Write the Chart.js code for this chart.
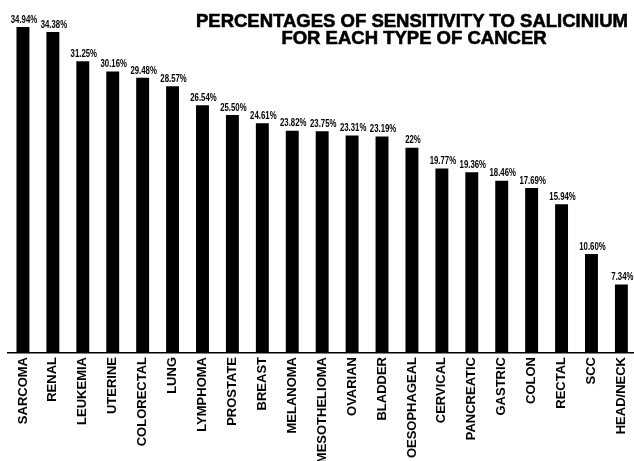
<!DOCTYPE html>
<html>
<head>
<meta charset="utf-8">
<script src="https://cdn.jsdelivr.net/npm/chart.js@4/dist/chart.umd.min.js"></script>
<style>
    html, body { margin: 0; padding: 0; background: #fff; overflow: hidden; }
    .chart-box { position: relative; width: 641px; height: 461px; }
</style>
</head>
<body>
<div class="chart-box"><canvas id="barChart"></canvas></div>
<script>
// 数据
const cancerTypes = ['SARCOMA', 'RENAL', 'LEUKEMIA', 'UTERINE', 'COLORECTAL', 'LUNG', 'LYMPHOMA',
    'PROSTATE', 'BREAST', 'MELANOMA', 'MESOTHELIOMA', 'OVARIAN', 'BLADDER', 'OESOPHAGEAL',
    'CERVICAL', 'PANCREATIC', 'GASTRIC', 'COLON', 'RECTAL', 'SCC', 'HEAD/NECK'];
const sensitivity = [34.94, 34.38, 31.25, 30.16, 29.48, 28.57, 26.54, 25.50, 24.61, 23.82, 23.75,
    23.31, 23.19, 22, 19.77, 19.36, 18.46, 17.69, 15.94, 10.60, 7.34];
const titleLines = ['PERCENTAGES OF SENSITIVITY TO SALICINIUM', 'FOR EACH TYPE OF CANCER'];

const fmt = v => (Number.isInteger(v) ? v : v.toFixed(2)) + '%';

// 柱顶标签 + 标题
const overlay = {
    id: 'overlay',
    afterDatasetsDraw(chart) {
        const ctx = chart.ctx;
        ctx.save();
        ctx.fillStyle = '#000';
        ctx.textAlign = 'center';
        ctx.textBaseline = 'bottom';
        ctx.font = 'bold 10px "Liberation Sans", Arial, sans-serif';
        chart.getDatasetMeta(0).data.forEach((bar, i) => {
            // 窄体效果
            ctx.save();
            ctx.translate(bar.x + 1, bar.y - 2);
            ctx.scale(0.78, 1);
            ctx.fillText(fmt(sensitivity[i]), 0, 0);
            ctx.restore();
        });

        ctx.font = 'bold 18.5px "Liberation Sans", Arial, sans-serif';
        ctx.textBaseline = 'alphabetic';
        ctx.lineWidth = 0.6;
        ctx.strokeStyle = '#000';
        [[titleLines[0], 412, 27], [titleLines[1], 414, 44]].forEach(([t, x, y]) => {
            ctx.fillText(t, x, y);
            ctx.strokeText(t, x, y);
        });
        ctx.restore();
    }
};

new Chart(document.getElementById('barChart'), {
    type: 'bar',
    data: {
        labels: cancerTypes,
        datasets: [{
            data: sensitivity,
            backgroundColor: '#000',
            categoryPercentage: 0.9,
            barPercentage: 0.48
        }]
    },
    options: {
        responsive: true,
        maintainAspectRatio: false,
        animation: false,
        layout: { padding: { left: 8, top: 17, right: 0, bottom: 0 } },
        plugins: {
            legend: { display: false },
            tooltip: { enabled: false }
        },
        scales: {
            x: {
                grid: { display: false, drawTicks: false },
                border: { color: '#000', width: 1.5 },
                ticks: {
                    color: '#000',
                    autoSkip: false,
                    maxRotation: 90,
                    minRotation: 90,
                    padding: 4,
                    font: { family: '"Liberation Sans", Arial, sans-serif', size: 13, weight: 'bold' }
                },
                afterFit: scale => { scale.height = 108; }
            },
            y: {
                display: false,
                min: 0,
                max: 36
            }
        }
    },
    plugins: [overlay]
});
</script>
</body>
</html>
